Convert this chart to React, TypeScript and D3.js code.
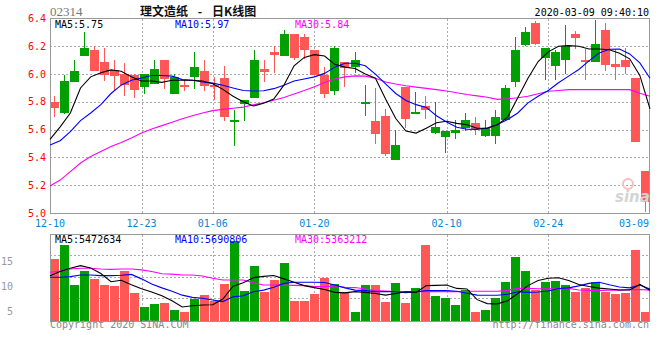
import React, { useEffect, useRef } from 'react';
import * as d3 from 'd3';

// daily candles, 60 trading days 12-10 .. 03-09
const opens = [5.8, 5.72, 5.94, 6.13, 6.17, 6.09, 6.03, 6.0, 5.99, 5.91, 5.93, 6.1, 5.86, 5.92, 5.98, 6.02, 5.92, 5.97, 5.66, 5.78,
	5.83, 6.04, 6.16, 6.13, 6.29, 6.27, 6.17, 5.99, 5.88, 6.09, 6.05, 5.79, 5.66, 5.7, 5.38, 5.91, 5.72, 5.77, 5.58, 5.55,
	5.58, 5.61, 5.65, 5.55, 5.55, 5.67, 5.94, 6.21, 6.37, 6.12, 6.06, 6.1, 6.29, 6.1, 6.09, 6.32, 6.07, 6.1, 5.97, 5.3];
const closes = [5.76, 5.95, 6.02, 6.19, 6.02, 6.0, 5.99, 5.92, 5.88, 6.0, 6.04, 5.96, 5.98, 5.91, 6.05, 5.91, 5.91, 5.69, 5.67, 5.81,
	6.1, 6.02, 6.14, 6.29, 6.12, 6.18, 5.99, 5.85, 6.19, 6.05, 6.1, 5.8, 5.57, 5.43, 5.49, 5.68, 5.73, 5.74, 5.62, 5.59,
	5.6, 5.67, 5.61, 5.61, 5.69, 5.9, 6.17, 6.3, 6.22, 6.19, 6.16, 6.2, 6.26, 6.09, 6.22, 6.07, 6.05, 6.05, 5.51, 5.08];
const highs = [5.84, 5.99, 6.1, 6.3, 6.2, 6.19, 6.1, 6.08, 6.0, 6.0, 6.1, 6.1, 6.0, 5.96, 6.16, 6.1, 5.98, 6.06, 5.74, 5.81,
	6.17, 6.1, 6.2, 6.32, 6.29, 6.29, 6.17, 6.05, 6.2, 6.09, 6.16, 5.92, 5.9, 5.75, 5.6, 5.91, 5.87, 5.84, 5.8, 5.59,
	5.67, 5.72, 5.69, 5.67, 5.74, 5.92, 6.27, 6.34, 6.38, 6.19, 6.17, 6.35, 6.31, 6.18, 6.39, 6.37, 6.18, 6.19, 5.97, 5.3];
const lows = [5.69, 5.71, 5.94, 6.13, 6.02, 5.95, 5.88, 5.84, 5.83, 5.86, 5.93, 5.89, 5.86, 5.88, 5.89, 5.88, 5.81, 5.66, 5.48, 5.66,
	5.83, 5.94, 6.01, 6.13, 6.1, 6.11, 5.99, 5.83, 5.85, 5.91, 6.01, 5.7, 5.5, 5.41, 5.38, 5.61, 5.72, 5.68, 5.57, 5.43,
	5.53, 5.59, 5.56, 5.55, 5.5, 5.66, 5.91, 6.2, 6.21, 5.96, 5.96, 6.0, 6.18, 5.96, 6.09, 6.02, 5.96, 6.0, 5.51, 5.01];

// volume in millions of shares
const volumes = [11.1, 13.55, 6.42, 8.91, 7.49, 6.42, 6.3, 8.91, 4.99, 2.5, 3.03, 3.21, 1.96, 1.6, 3.98, 4.63, 3.62, 6.6, 14.26, 5.35,
	9.8, 5.17, 7.31, 10.34, 3.57, 3.57, 4.81, 7.66, 6.6, 5.23, 1.6, 6.42, 6.42, 3.4, 6.7, 3.2, 5.9, 13.55, 4.51, 4.1,
	2.85, 5.53, 1.6, 1.96, 4.1, 6.95, 11.4, 8.91, 5.53, 6.95, 7.13, 6.42, 5.17, 5.88, 6.95, 5.17, 4.81, 4.99, 12.66, 1.6];

// moving averages as drawn on the chart
const ma5 = [5.53, 5.62, 5.72, 5.9, 5.98, 6.01, 6.03, 6.02, 5.98, 5.95, 5.95, 5.94, 5.955, 5.955, 5.955, 5.95, 5.93, 5.89, 5.84, 5.8,
	5.77, 5.79, 5.82, 5.92, 6.06, 6.12, 6.14, 6.13, 6.07, 6.05, 6.04, 6.0, 5.97, 5.82, 5.68, 5.59, 5.575, 5.61, 5.65, 5.66,
	5.645, 5.635, 5.61, 5.61, 5.635, 5.69, 5.83, 5.97, 6.09, 6.16, 6.2, 6.205, 6.2, 6.18, 6.18, 6.175, 6.15, 6.11, 5.99, 5.75];
const ma10 = [5.49, 5.52, 5.585, 5.665, 5.72, 5.78, 5.86, 5.92, 5.955, 5.972, 5.99, 5.99, 5.985, 5.96, 5.955, 5.943, 5.935, 5.92, 5.9, 5.882,
	5.878, 5.88, 5.895, 5.92, 5.95, 5.965, 5.98, 6.005, 6.05, 6.078, 6.078, 6.06, 6.0, 5.93, 5.86, 5.81, 5.78, 5.76, 5.7, 5.655,
	5.617, 5.603, 5.602, 5.612, 5.637, 5.673, 5.72, 5.793, 5.84, 5.882, 5.937, 5.985, 6.033, 6.095, 6.152, 6.179, 6.18, 6.145, 6.08, 5.97];
const ma30 = [5.194, 5.237, 5.298, 5.36, 5.406, 5.443, 5.478, 5.508, 5.54, 5.576, 5.605, 5.629, 5.653, 5.678, 5.7, 5.72, 5.737, 5.746, 5.754, 5.762,
	5.779, 5.793, 5.811, 5.832, 5.857, 5.881, 5.908, 5.94, 5.964, 5.98, 5.987, 5.985, 5.97, 5.943, 5.928, 5.916, 5.906, 5.897, 5.888, 5.878,
	5.866, 5.853, 5.843, 5.833, 5.818, 5.822, 5.829, 5.84, 5.858, 5.876, 5.882, 5.888, 5.888, 5.888, 5.888, 5.888, 5.888, 5.888, 5.862, 5.84];

const volMa5 = [8.07, 8.8, 9.4, 9.85, 9.45, 8.45, 7.0, 7.25, 6.45, 5.75, 5.15, 4.5, 3.6, 2.5, 2.72, 2.85, 2.9, 3.9, 6.2, 6.8,
	7.7, 7.95, 8.1, 7.5, 6.9, 6.3, 5.94, 5.6, 5.1, 5.0, 5.23, 5.1, 4.9, 4.6, 4.9, 5.2, 5.1, 6.3, 6.35, 6.4,
	5.8, 5.7, 3.8, 3.1, 3.05, 3.6, 4.9, 6.3, 7.2, 7.6, 7.7, 7.2, 6.5, 6.15, 5.85, 5.7, 5.53, 5.53, 6.5, 5.47];
const volMa10 = [7.78, 7.8, 7.9, 8.2, 8.2, 8.07, 8.07, 8.15, 8.3, 7.5, 6.6, 5.9, 5.3, 4.6, 4.2, 4.05, 3.75, 3.45, 4.3, 4.5,
	5.2, 5.5, 6.0, 6.7, 6.9, 6.9, 6.9, 6.85, 6.4, 5.9, 5.5, 5.4, 5.23, 5.23, 5.2, 5.05, 5.2, 5.4, 5.42, 5.42,
	5.3, 4.95, 4.6, 4.58, 4.58, 4.75, 5.2, 5.1, 5.15, 5.35, 5.8, 5.9, 6.25, 6.7, 6.9, 6.45, 6.05, 5.9, 6.4, 5.69];
const volMa30 = [8.68, 8.9, 9.25, 9.39, 9.39, 9.25, 9.2, 9.25, 9.25, 9.1, 8.8, 8.4, 8.35, 8.2, 8.2, 8.02, 7.6, 7.3, 7.3, 7.3,
	6.8, 6.42, 6.42, 6.42, 6.35, 6.3, 6.15, 6.12, 6.24, 6.0, 5.95, 5.7, 5.4, 5.35, 5.25, 5.23, 5.23, 5.23, 5.23, 5.23,
	5.23, 5.3, 5.3, 5.3, 5.3, 5.45, 5.8, 5.83, 5.75, 5.75, 5.75, 5.8, 5.53, 5.45, 5.45, 5.5, 5.5, 5.58, 5.6, 5.5];

const dateTicks = ['12-10', '12-23', '01-06', '01-20', '02-10', '02-24', '03-09'];
const dateTickIdx = [0, 9, 16, 26, 39, 49, 59];
const priceTicks = [5.0, 5.2, 5.4, 5.6, 5.8, 6.0, 6.2, 6.4];
const volTicks = [15, 10, 5];

const RED = '#ff5656';
const GREEN = '#00a000';
const GRID = '#aaaaaa';
const MONO = '"DejaVu Sans Mono", "Liberation Mono", monospace';

export default function App() {
	const ref = useRef<SVGSVGElement>(null);

	useEffect(() => {
		const svg = d3.select(ref.current);
		svg.selectAll('*').remove();

		const left = 50, right = 649.5;
		const top = 18.5, bottom = 213;
		const vTop = 234.5, vBottom = 321;

		// candles sit on one scale, grid / MA lines on a slightly wider one
		const xc = d3.scaleLinear().domain([0, 59]).range([50, 641]);
		const xg = d3.scaleLinear().domain([0, 59]).range([50, 650]);
		const y = d3.scaleLinear().domain([5.0, 6.4]).range([bottom, top]);
		const yv = d3.scaleLinear().domain([0, 15.4]).range([vBottom, vTop]);
		const yLab = d3.scaleLinear().domain([5, 15]).range([311, 261]);

		const g = svg.append('g').attr('shape-rendering', 'crispEdges');

		// header
		svg.append('text').attr('x', 50).attr('y', 16).text('02314')
			.style('font', '13px "Liberation Serif", serif').attr('fill', '#777');
		const titleFont = 'bold 12px "Noto Sans CJK SC", sans-serif';
		svg.append('text').attr('x', 140).attr('y', 16).text('理文造纸').style('font', titleFont).attr('fill', '#111');
		svg.append('text').attr('x', 200).attr('y', 16).attr('text-anchor', 'middle').text('-').style('font', titleFont).attr('fill', '#111');
		svg.append('text').attr('x', 212).attr('y', 16).text('日K线图').style('font', titleFont).attr('fill', '#111');
		svg.append('text').attr('x', 649).attr('y', 15.5).attr('text-anchor', 'end').text('2020-03-09 09:40:10')
			.style('font', `10px ${MONO}`).attr('fill', '#000');

		// price grid
		g.selectAll('.hg').data(priceTicks.slice(1, -1)).enter().append('line')
			.attr('x1', left).attr('x2', right).attr('y1', d => Math.round(y(d)) + 0.5).attr('y2', d => Math.round(y(d)) + 0.5)
			.attr('stroke', GRID).attr('stroke-dasharray', '2,2');
		g.selectAll('.vg').data(dateTickIdx.slice(1, -1)).enter().append('line')
			.attr('x1', d => Math.round(xg(d)) + 0.5).attr('x2', d => Math.round(xg(d)) + 0.5)
			.attr('y1', top).attr('y2', bottom).attr('stroke', GRID).attr('stroke-dasharray', '2,2');
		g.selectAll('.vg2').data(dateTickIdx.slice(1, -1)).enter().append('line')
			.attr('x1', d => Math.round(xg(d)) + 0.5).attr('x2', d => Math.round(xg(d)) + 0.5)
			.attr('y1', vTop).attr('y2', vBottom).attr('stroke', GRID).attr('stroke-dasharray', '2,2');
		g.selectAll('.vhg').data(d3.range(1, 4)).enter().append('line')
			.attr('x1', left).attr('x2', right)
			.attr('y1', d => Math.round(vTop + ((vBottom - vTop) * d) / 4) - 0.5)
			.attr('y2', d => Math.round(vTop + ((vBottom - vTop) * d) / 4) - 0.5)
			.attr('stroke', GRID).attr('stroke-dasharray', '2,2');

		// price axis labels
		svg.selectAll('.pl').data(priceTicks).enter().append('text')
			.attr('x', 46).attr('y', d => y(d)).attr('dy', '0.35em').attr('text-anchor', 'end')
			.text(d => d.toFixed(1)).style('font', `10px ${MONO}`).attr('fill', '#ff0000');
		svg.selectAll('.dl').data(dateTicks).enter().append('text')
			.attr('x', (d, i) => (i === dateTicks.length - 1 ? 649 : xg(dateTickIdx[i])))
			.attr('y', 226.5).attr('text-anchor', (d, i) => (i === dateTicks.length - 1 ? 'end' : 'middle'))
			.text(d => d).style('font', `10px ${MONO}`).attr('fill', '#0a84d4');
		svg.selectAll('.vl').data(volTicks).enter().append('text')
			.attr('x', 13).attr('y', d => yLab(d)).attr('dy', '0.35em').attr('text-anchor', 'end')
			.text(d => d).style('font', `10px ${MONO}`).attr('fill', '#999');

		// watermark
		svg.append('circle').attr('cx', 628).attr('cy', 184).attr('r', 5).attr('fill', 'none').attr('stroke', '#f3c0c0').attr('stroke-width', 2);
		svg.append('text').attr('x', 615).attr('y', 202).text('sina')
			.style('font', 'italic bold 15px "DejaVu Sans", sans-serif').attr('fill', '#d4d4d4');

		// candles
		const idx = d3.range(opens.length);
		const col = (i: number) => (closes[i] < opens[i] ? RED : GREEN);
		g.selectAll('.wick').data(idx).enter().append('line')
			.attr('x1', i => Math.round(xc(i)) + 4.5).attr('x2', i => Math.round(xc(i)) + 4.5)
			.attr('y1', i => Math.round(y(highs[i]))).attr('y2', i => Math.round(y(lows[i])))
			.attr('stroke', col);
		g.selectAll('.body').data(idx).enter().append('rect')
			.attr('x', i => Math.round(xc(i)))
			.attr('y', i => Math.round(y(Math.max(opens[i], closes[i]))))
			.attr('width', 9)
			.attr('height', i => Math.max(2, Math.round(Math.abs(y(opens[i]) - y(closes[i])))))
			.attr('fill', col);

		// volume bars
		g.selectAll('.vbar').data(idx).enter().append('rect')
			.attr('x', i => Math.round(xc(i)))
			.attr('y', i => Math.round(yv(volumes[i])))
			.attr('width', 9)
			.attr('height', i => vBottom - Math.round(yv(volumes[i])))
			.attr('fill', col);

		// moving average lines
		const priceLine = d3.line<number>().x((d, i) => xg(i)).y(d => y(d));
		const volLine = d3.line<number>().x((d, i) => xg(i)).y(d => yv(d));
		[[ma30, '#ff00ff'], [ma10, '#0000ff'], [ma5, '#000000']].forEach(([s, c]) => {
			svg.append('path').attr('d', priceLine(s as number[])).attr('fill', 'none').attr('stroke', c as string).attr('stroke-width', 1.1);
		});
		[[volMa30, '#ff00ff'], [volMa10, '#0000ff'], [volMa5, '#000000']].forEach(([s, c]) => {
			svg.append('path').attr('d', volLine(s as number[])).attr('fill', 'none').attr('stroke', c as string).attr('stroke-width', 1.1);
		});

		// frames
		g.append('rect').attr('x', left + 0.5).attr('y', top).attr('width', right - left - 0.5).attr('height', bottom - top)
			.attr('fill', 'none').attr('stroke', '#999');
		g.append('rect').attr('x', left + 0.5).attr('y', vTop).attr('width', right - left - 0.5).attr('height', vBottom - vTop)
			.attr('fill', 'none').attr('stroke', '#999');

		// legends
		const legend = (yy: number, items: string[]) => {
			const colors = ['#000000', '#0000ff', '#ff00ff'];
			items.forEach((t, i) => {
				svg.append('text').attr('x', 55 + i * 120).attr('y', yy).text(t)
					.style('font', `10px ${MONO}`).attr('fill', colors[i]);
			});
		};
		legend(28, ['MA5:5.75', 'MA10:5.97', 'MA30:5.84']);
		legend(243, ['MA5:5472634', 'MA10:5690806', 'MA30:5363212']);

		// footer
		svg.append('text').attr('x', 50).attr('y', 328).text('Copyright 2020 SINA.COM')
			.style('font', `10px ${MONO}`).attr('fill', '#888');
		svg.append('text').attr('x', 649).attr('y', 328).attr('text-anchor', 'end').text('http://finance.sina.com.cn')
			.style('font', `10px ${MONO}`).attr('fill', '#888');
	}, []);

	return (
		<svg
			ref={ref}
			width={660}
			height={360}
			style={{ position: 'absolute', left: 0, top: 0, background: '#fff' }}
		/>
	);
}
